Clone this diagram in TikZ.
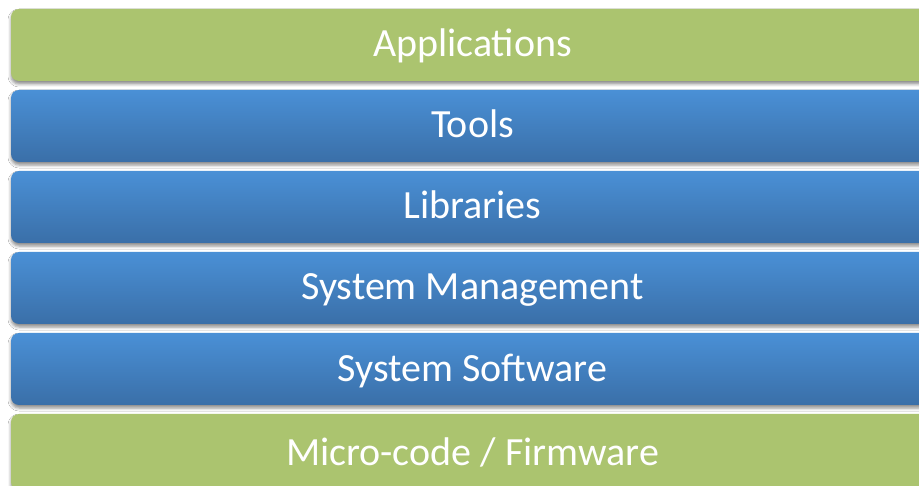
\documentclass[tikz,border=0pt]{standalone}
\usepackage{fontspec}
\setmainfont{Carlito}
\usetikzlibrary{shadows.blur}
\definecolor{appgreen}{RGB}{171,196,111}
\definecolor{bluetop}{RGB}{74,144,214}
\definecolor{bluebot}{RGB}{58,111,168}
\tikzset{
  layer/.style={rounded corners=8pt, inner sep=0pt,
    blur shadow={shadow xshift=0pt, shadow yshift=-3pt, shadow blur radius=3pt, shadow opacity=45}},
  greenlayer/.style={layer, fill=appgreen},
  bluelayer/.style={layer, top color=bluetop, bottom color=bluebot},
  lbl/.style={text=white, font=\fontsize{40}{44}\selectfont, anchor=base, inner sep=0pt}
}
\begin{document}
\begin{tikzpicture}[x=1pt,y=-1pt]
\useasboundingbox (0,0) rectangle (919,486);
\clip (0,0) rectangle (919,486);
\fill[white] (0,0) rectangle (919,486);
\path[greenlayer] (11,9) rectangle (934,81);
\path[bluelayer] (11,90) rectangle (934,162);
\path[bluelayer] (11,171) rectangle (934,243);
\path[bluelayer] (11,252) rectangle (934,324);
\path[bluelayer] (11,333) rectangle (934,405);
\path[greenlayer] (11,414) rectangle (934,490);
\node[lbl] (app) at (472.5,57) {Applications};
\node[lbl] (tools) at (472.5,138) {Tools};
\node[lbl] (libs) at (472.5,219) {Libraries};
\node[lbl] (sysman) at (472.5,300) {System Management};
\node[lbl] (syssw) at (472.5,382) {System Software};
\node[lbl] (micro) at (472.5,465) {Micro-code / Firmware};
\end{tikzpicture}
\end{document}
